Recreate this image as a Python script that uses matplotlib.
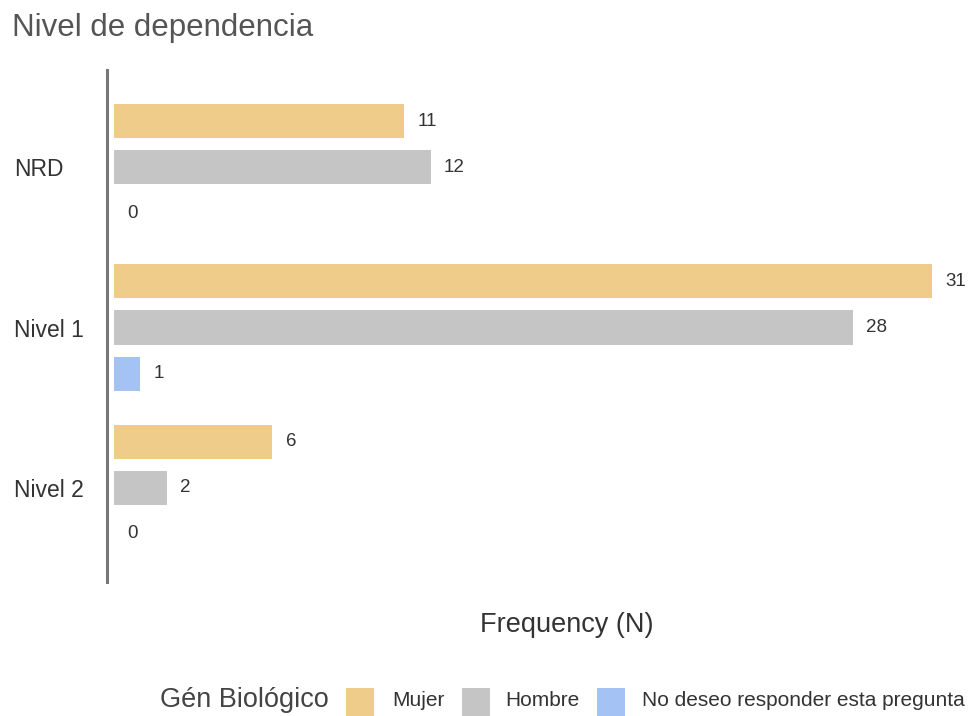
import matplotlib
matplotlib.use("Agg")
import matplotlib.pyplot as plt
from matplotlib.patches import Rectangle
import numpy as np

plt.rcParams['font.family'] = ['Liberation Sans', 'DejaVu Sans']

categories = ["NRD", "Nivel 1", "Nivel 2"]
series_names = ["Mujer", "Hombre", "No deseo responder esta pregunta"]
mujer = [11, 31, 6]
hombre = [12, 28, 2]
no_responde = [0, 1, 0]
series_values = [mujer, hombre, no_responde]
colors = ["#F0CC8B", "#C5C5C5", "#A4C2F4"]

W, H = 976, 716
fig = plt.figure(figsize=(W / 100, H / 100), dpi=100)

def fx(px):
    return px / W

def fy(py):
    return 1 - py / H

ax_left, ax_right, ax_top, ax_bottom = 107, 962, 70, 582
ax = fig.add_axes([fx(ax_left), fy(ax_bottom), fx(ax_right - ax_left), (ax_bottom - ax_top) / H])

scale = (932 - 114) / 31.0
xmin = -(114 - ax_left) / scale
xmax = (ax_right - 114) / scale
ax.set_xlim(xmin, xmax)

offsets = [-46 / 160, 0, 46 / 160]
bar_h = 34 / 160
y_centers = np.arange(len(categories))

for j, (vals, col) in enumerate(zip(series_values, colors)):
    ys = y_centers + offsets[j]
    ax.barh(ys, vals, height=bar_h, left=0, color=col, edgecolor='none')
    for y, v in zip(ys, vals):
        ax.annotate(str(v), xy=(v, y), xytext=(9.5, 0), textcoords='offset points',
                    ha='left', va='center', fontsize=13.5, color='#333333')

ax.set_ylim(2 + 94 / 160, -97 / 160)

for s in ['top', 'right', 'bottom']:
    ax.spines[s].set_visible(False)
ax.spines['left'].set_color('#777777')
ax.spines['left'].set_linewidth(2.2)

ax.set_xticks([])
ax.set_yticks(y_centers)
ax.set_yticklabels(categories, fontsize=16.5, color='#333333')
ax.tick_params(axis='y', length=0, pad=(ax_left - 14) * 0.72)
for lbl in ax.get_yticklabels():
    lbl.set_horizontalalignment('left')

# Title
fig.text(fx(12), fy(28), "Nivel de dependencia", fontsize=22.5, color='#555555',
         ha='left', va='center')

# X axis label
fig.text(fx(567), fy(625), "Frequency (N)", fontsize=19.5, color='#333333',
         ha='center', va='center')

# Legend
fig.text(fx(160), fy(700), "Gén Biológico", fontsize=19.5, color='#444444',
         ha='left', va='center')
sw_x = [346, 462, 597]
tx_x = [392, 505, 642]
for name, col, sx, tx in zip(series_names, colors, sw_x, tx_x):
    fig.patches.append(Rectangle((fx(sx), fy(718)), fx(28), (718 - 688) / H,
                                 transform=fig.transFigure, facecolor=col,
                                 edgecolor='none'))
    fig.text(fx(tx), fy(700), name, fontsize=15, color='#333333',
             ha='left', va='center')

fig.savefig("out.png", dpi=100)
